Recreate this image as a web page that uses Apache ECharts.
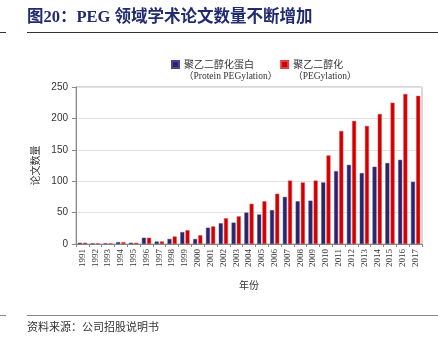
<!DOCTYPE html>
<html><head><meta charset="utf-8">
<script src="https://cdn.jsdelivr.net/npm/echarts@6/dist/echarts.min.js"></script>
<style>html,body{margin:0;padding:0;background:#fff}#c{width:438px;height:356px}</style>
</head><body><div id="c"></div>
<script>
var years = ['1991','1992','1993','1994','1995','1996','1997','1998','1999','2000','2001','2002','2003','2004','2005','2006','2007','2008','2009','2010','2011','2012','2013','2014','2015','2016','2017'];
var proteinPeg = [2,1,1,3,2,10,4,8,19,8,26,33,34,50,47,54,75,68,69,98,116,126,113,123,129,134,99];
var peg = [2,1,1,3,2,10,4,12,22,14,28,41,44,64,68,80,101,98,101,141,180,196,188,207,225,239,236];
var yTicks = {min:0, max:250, interval:50};
var serifF = '"Liberation Serif","Noto Sans CJK SC",serif';
var cjkF = '"Noto Sans CJK SC","Liberation Serif",serif';
var chart = echarts.init(document.getElementById('c'), null, {renderer:'canvas'});
var iconPath = 'path://M0,0L7,0L7,7L0,7Z M0,19L0.01,19';
chart.setOption({
  animation:false,
  backgroundColor:'#fff',
  grid:{left:76,right:16,top:87,bottom:112,show:true,borderColor:'#b0b0b0',borderWidth:1,containLabel:false},
  legend:{
    left:166, top:54, itemGap:3, itemWidth:7, itemHeight:19,
    data:[{name:'聚乙二醇化蛋白',icon:iconPath},{name:'聚乙二醇化',icon:iconPath}],
    formatter:function(n){
      return n==='聚乙二醇化蛋白' ? '{a|聚乙二醇化蛋白}\n{b|（Protein PEGylation）}' : '{a|聚乙二醇化}\n{b|（PEGylation）}';
    },
    textStyle:{rich:{
      a:{fontFamily:cjkF,fontSize:10,color:'#333',lineHeight:13},
      b:{fontFamily:serifF,fontSize:9.5,color:'#333',lineHeight:13}
    }}
  },
  xAxis:{
    type:'category', data:years,
    name:'年份', nameLocation:'middle', nameGap:36,
    nameTextStyle:{fontFamily:cjkF,fontSize:10,color:'#333'},
    axisLine:{lineStyle:{color:'#888'}},
    axisTick:{show:true,alignWithLabel:false,length:3,lineStyle:{color:'#888'}},
    axisLabel:{rotate:90,interval:0,fontFamily:serifF,fontSize:9,color:'#333',margin:5}
  },
  yAxis:{
    type:'value', min:yTicks.min, max:yTicks.max, interval:yTicks.interval,
    name:'论文数量', nameLocation:'middle', nameGap:23, nameRotate:90,
    nameTextStyle:{fontFamily:cjkF,fontSize:10,color:'#333'},
    axisLine:{show:true,lineStyle:{color:'#888'}},
    axisTick:{show:true,length:4,lineStyle:{color:'#888'}},
    axisLabel:{fontFamily:'"Liberation Sans",Arial,sans-serif',fontSize:10,color:'#333',margin:8},
    splitLine:{lineStyle:{color:'#e2e2e2'}}
  },
  series:[
    {name:'聚乙二醇化蛋白',type:'bar',data:proteinPeg,barWidth:4,barGap:'30%',
     itemStyle:{color:'#2B2468',borderColor:'#4a4590',borderWidth:0.5}},
    {name:'聚乙二醇化',type:'bar',data:peg,barWidth:4,barGap:'30%',
     itemStyle:{color:'#D10000',borderColor:'#e04040',borderWidth:0.5}}
  ],
  graphic:[
    {type:'text',left:27,top:9,style:{text:'图20：PEG 领域学术论文数量不断增加',fontFamily:'"Liberation Serif","Noto Sans CJK SC",serif',fontWeight:'bold',fontSize:16.5,fill:'#1F2A70'}},
    {type:'line',shape:{x1:27,y1:32.5,x2:438,y2:32.5},style:{stroke:'#333',lineWidth:1}},
    {type:'line',shape:{x1:0,y1:32.5,x2:6,y2:32.5},style:{stroke:'#333',lineWidth:1}},
    {type:'line',shape:{x1:27,y1:315.5,x2:438,y2:315.5},style:{stroke:'#888',lineWidth:1}},
    {type:'line',shape:{x1:0,y1:315.5,x2:6,y2:315.5},style:{stroke:'#888',lineWidth:1}},
    {type:'text',left:27,top:321,style:{text:'资料来源：公司招股说明书',fontFamily:cjkF,fontSize:11,fill:'#333'}}
  ]
});
</script></body></html>
